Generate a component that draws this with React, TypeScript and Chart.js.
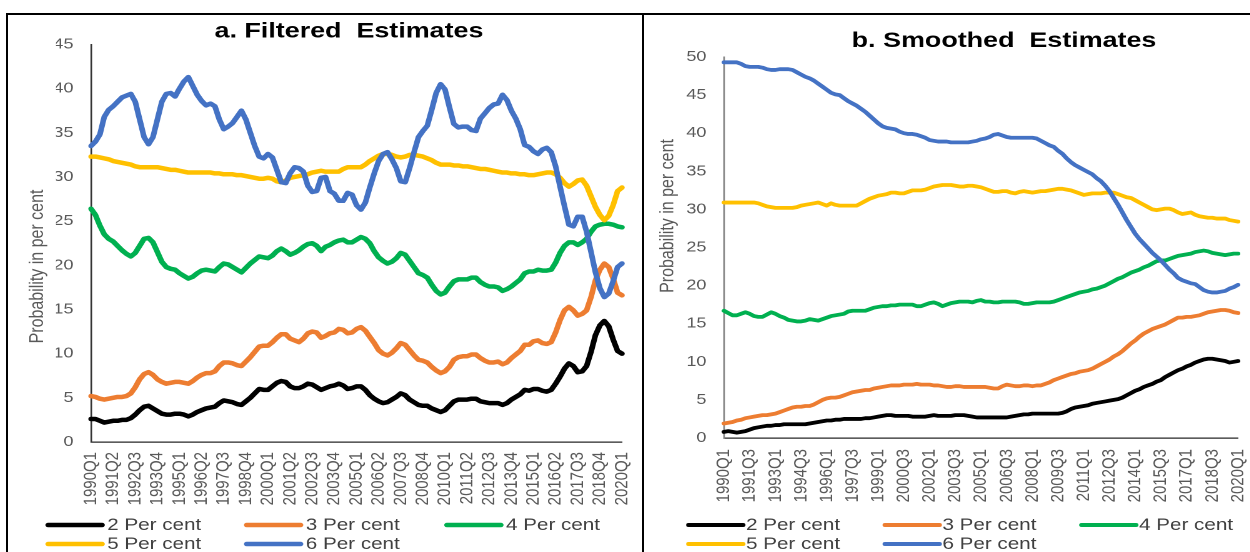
import React, { useEffect, useRef } from 'react';
import { Chart, registerables } from 'chart.js';

Chart.register(...registerables);

const FONT = "'Liberation Sans', Arial, Helvetica, sans-serif";
const STRETCH = 1.25;

const seriesLabels = ['2 Per cent', '3 Per cent', '4 Per cent', '5 Per cent', '6 Per cent'];
const seriesColors = ['#000000', '#ED7D31', '#00B050', '#FFC000', '#4472C4'];
const axisTitleText = 'Probability in per cent';

const quarters: string[] = [];
for (let year = 1990; year <= 2020; year++) {
  for (let q = 1; q <= 4; q++) {
    if (year === 2020 && q > 1) break;
    quarters.push(`${year}Q${q}`);
  }
}

const filteredTickLabels = [
  '1990Q1', '1991Q2', '1992Q3', '1993Q4', '1995Q1', '1996Q2', '1997Q3', '1998Q4', '2000Q1',
  '2001Q2', '2002Q3', '2003Q4', '2005Q1', '2006Q2', '2007Q3', '2008Q4', '2010Q1', '2011Q2',
  '2012Q3', '2013Q4', '2015Q1', '2016Q2', '2017Q3', '2018Q4', '2020Q1',
];
const smoothedTickLabels = [
  '1990Q1', '1991Q3', '1993Q1', '1994Q3', '1996Q1', '1997Q3', '1999Q1', '2000Q3', '2002Q1',
  '2003Q3', '2005Q1', '2006Q3', '2008Q1', '2009Q3', '2011Q1', '2012Q3', '2014Q1', '2015Q3',
  '2017Q1', '2018Q3', '2020Q1',
];

// ---- a. Filtered estimates ----
const filtered2 = [
  2.6, 2.6, 2.4, 2.2, 2.3, 2.4, 2.4, 2.5, 2.5, 2.7,
  3.1, 3.6, 4.0, 4.1, 3.8, 3.5, 3.2, 3.1, 3.1, 3.2,
  3.2, 3.1, 2.9, 3.1, 3.4, 3.6, 3.8, 3.9, 4.0, 4.4,
  4.7, 4.6, 4.5, 4.3, 4.2, 4.6, 5.0, 5.5, 6.0, 5.9,
  5.9, 6.3, 6.7, 6.9, 6.8, 6.3, 6.1, 6.1, 6.3, 6.6,
  6.5, 6.2, 5.9, 6.1, 6.3, 6.4, 6.6, 6.4, 6.0, 6.1,
  6.3, 6.3, 5.9, 5.3, 4.9, 4.6, 4.4, 4.5, 4.8, 5.1,
  5.5, 5.3, 4.8, 4.5, 4.2, 4.1, 4.1, 3.8, 3.6, 3.4,
  3.6, 4.1, 4.6, 4.8, 4.8, 4.8, 4.9, 4.9, 4.6, 4.5,
  4.4, 4.4, 4.4, 4.2, 4.4, 4.8, 5.1, 5.4, 5.9, 5.8,
  6.0, 6.0, 5.8, 5.7, 5.9, 6.6, 7.4, 8.3, 8.9, 8.6,
  7.9, 8.0, 8.6, 10.2, 12.1, 13.2, 13.7, 13.1, 11.6, 10.3,
  10.0,
];
const filtered3 = [
  5.2, 5.1, 4.9, 4.8, 4.9, 5.0, 5.1, 5.1, 5.2, 5.5,
  6.2, 7.1, 7.7, 7.9, 7.6, 7.1, 6.8, 6.6, 6.7, 6.8,
  6.8, 6.7, 6.6, 6.9, 7.3, 7.6, 7.8, 7.8, 8.0, 8.6,
  9.0, 9.0, 8.9, 8.7, 8.6, 9.1, 9.6, 10.2, 10.8, 10.9,
  10.9, 11.3, 11.8, 12.2, 12.2, 11.7, 11.5, 11.3, 11.7, 12.3,
  12.5, 12.4, 11.8, 12.0, 12.3, 12.4, 12.8, 12.7, 12.3, 12.4,
  12.8, 13.0, 12.6, 11.9, 11.2, 10.4, 10.0, 9.8, 10.1, 10.6,
  11.2, 11.0, 10.4, 9.8, 9.3, 9.2, 9.0, 8.5, 8.1, 7.8,
  8.0, 8.5, 9.3, 9.6, 9.7, 9.7, 9.9, 9.9, 9.5, 9.2,
  9.0, 9.0, 9.1, 8.8, 9.0, 9.5, 9.9, 10.3, 11.0, 11.0,
  11.4, 11.5, 11.2, 11.1, 11.3, 12.4, 13.8, 14.9, 15.3, 14.9,
  14.3, 14.5, 14.9, 16.4, 18.3, 19.5, 20.2, 19.8, 18.5, 16.9,
  16.6,
];
const filtered4 = [
  26.4, 25.7, 24.5, 23.5, 23.0, 22.7, 22.2, 21.7, 21.3, 21.0,
  21.4, 22.2, 23.0, 23.1, 22.6, 21.5, 20.4, 19.8, 19.6, 19.5,
  19.1, 18.8, 18.5, 18.7, 19.1, 19.4, 19.5, 19.4, 19.3, 19.8,
  20.2, 20.1, 19.8, 19.5, 19.2, 19.7, 20.2, 20.6, 21.0, 20.9,
  20.8, 21.1, 21.6, 21.9, 21.6, 21.2, 21.4, 21.7, 22.1, 22.4,
  22.5, 22.2, 21.6, 22.1, 22.3, 22.6, 22.8, 22.9, 22.6, 22.6,
  22.9, 23.2, 23.0, 22.5, 21.6, 20.9, 20.5, 20.2, 20.4, 20.8,
  21.4, 21.2, 20.5, 19.8, 19.1, 18.9, 18.6, 17.8, 17.1, 16.7,
  16.9, 17.6, 18.2, 18.4, 18.4, 18.4, 18.6, 18.6, 18.1, 17.8,
  17.6, 17.6, 17.5, 17.1, 17.3, 17.6, 18.0, 18.4, 19.1, 19.3,
  19.3, 19.5, 19.4, 19.4, 19.5, 20.3, 21.4, 22.2, 22.6, 22.6,
  22.3, 22.6, 23.0, 23.8, 24.4, 24.6, 24.7, 24.7, 24.6, 24.4,
  24.3,
];
const filtered5 = [
  32.3, 32.3, 32.2, 32.1, 32.0, 31.8, 31.7, 31.6, 31.5, 31.4,
  31.2, 31.1, 31.1, 31.1, 31.1, 31.1, 31.0, 30.9, 30.8, 30.8,
  30.7, 30.6, 30.5, 30.5, 30.5, 30.5, 30.5, 30.5, 30.4, 30.4,
  30.3, 30.3, 30.3, 30.2, 30.2, 30.1, 30.0, 29.9, 29.8, 29.8,
  29.9, 29.8, 29.5, 29.4, 29.6, 29.9, 30.0, 30.1, 30.2, 30.3,
  30.5, 30.6, 30.7, 30.6, 30.6, 30.6, 30.6, 30.9, 31.1, 31.1,
  31.1, 31.1, 31.4, 31.8, 32.1, 32.4, 32.6, 32.6, 32.5, 32.3,
  32.2, 32.3, 32.5, 32.5, 32.4, 32.3, 32.1, 31.9, 31.6, 31.4,
  31.4, 31.4, 31.3, 31.3, 31.2, 31.2, 31.1, 31.0, 30.9, 30.9,
  30.8, 30.7, 30.6, 30.5, 30.5, 30.4, 30.4, 30.3, 30.3, 30.2,
  30.2, 30.3, 30.4, 30.5, 30.5, 30.3, 29.9, 29.3, 28.9, 29.2,
  29.6, 29.7, 29.0, 27.8, 26.6, 25.7, 25.1, 25.6, 26.8, 28.4,
  28.8,
];
const filtered6 = [
  33.5, 34.0, 34.8, 36.8, 37.6, 38.0, 38.5, 39.0, 39.2, 39.4,
  38.5, 36.5, 34.5, 33.7, 34.5, 36.5, 38.5, 39.4, 39.5, 39.1,
  40.0, 40.8, 41.3, 40.3, 39.3, 38.6, 38.1, 38.3, 38.0, 36.5,
  35.4, 35.7, 36.1, 36.8, 37.5, 36.5, 35.0, 33.5, 32.3, 32.1,
  32.6, 32.2, 30.8, 29.4, 29.3, 30.4, 31.1, 31.0, 30.6, 29.0,
  28.3, 28.4, 29.9, 30.0, 28.4, 28.1, 27.3, 27.3, 28.2, 28.0,
  26.8, 26.3, 27.1, 28.8, 30.4, 31.8, 32.6, 32.8, 32.0, 31.0,
  29.5, 29.4, 31.0, 32.8, 34.5, 35.2, 35.8, 37.6, 39.5, 40.5,
  39.9, 37.9, 36.0, 35.6, 35.7, 35.7, 35.3, 35.2, 36.6, 37.2,
  37.8, 38.2, 38.3, 39.3, 38.7, 37.5, 36.6, 35.4, 33.6, 33.4,
  32.9, 32.6, 33.1, 33.3, 32.8, 31.2, 28.9, 26.7, 24.6, 24.4,
  25.5, 25.5, 23.8, 21.5, 19.2, 17.4, 16.4, 16.8, 18.2, 19.8,
  20.2,
];

// ---- b. Smoothed estimates ----
const smoothed2 = [
  0.8, 0.9, 0.8, 0.7, 0.8, 0.9, 1.1, 1.3, 1.4, 1.5,
  1.6, 1.6, 1.7, 1.7, 1.8, 1.8, 1.8, 1.8, 1.8, 1.8,
  1.9, 2.0, 2.1, 2.2, 2.3, 2.3, 2.4, 2.4, 2.5, 2.5,
  2.5, 2.5, 2.5, 2.6, 2.6, 2.7, 2.8, 2.9, 3.0, 3.0,
  2.9, 2.9, 2.9, 2.9, 2.8, 2.8, 2.8, 2.8, 2.9, 3.0,
  2.9, 2.9, 2.9, 2.9, 3.0, 3.0, 3.0, 2.9, 2.8, 2.7,
  2.7, 2.7, 2.7, 2.7, 2.7, 2.7, 2.7, 2.8, 2.9, 3.0,
  3.1, 3.1, 3.2, 3.2, 3.2, 3.2, 3.2, 3.2, 3.2, 3.3,
  3.5, 3.8, 4.0, 4.1, 4.2, 4.3, 4.5, 4.6, 4.7, 4.8,
  4.9, 5.0, 5.1, 5.3, 5.6, 5.9, 6.2, 6.4, 6.7, 6.9,
  7.1, 7.4, 7.6, 8.0, 8.3, 8.6, 8.9, 9.1, 9.4, 9.6,
  9.9, 10.1, 10.3, 10.4, 10.4, 10.3, 10.2, 10.1, 9.9, 10.0,
  10.1,
];
const smoothed3 = [
  1.9, 2.0, 2.1, 2.3, 2.4, 2.6, 2.7, 2.8, 2.9, 3.0,
  3.0, 3.1, 3.2, 3.4, 3.6, 3.8, 4.0, 4.1, 4.1, 4.2,
  4.2, 4.4, 4.7, 5.0, 5.2, 5.3, 5.3, 5.4, 5.6, 5.8,
  6.0, 6.1, 6.2, 6.3, 6.3, 6.5, 6.6, 6.7, 6.8, 6.9,
  6.9, 6.9, 7.0, 7.0, 7.0, 7.1, 7.0, 7.0, 7.0, 6.9,
  6.9, 6.8, 6.7, 6.7, 6.8, 6.8, 6.7, 6.7, 6.7, 6.7,
  6.7, 6.7, 6.6, 6.5, 6.5, 6.8, 7.0, 6.9, 6.8, 6.8,
  6.9, 6.9, 6.8, 6.9, 6.9, 7.1, 7.3, 7.6, 7.8, 8.0,
  8.2, 8.4, 8.5, 8.7, 8.8, 8.9, 9.1, 9.4, 9.7, 10.0,
  10.3, 10.7, 11.0, 11.4, 11.9, 12.4, 12.8, 13.3, 13.7, 14.0,
  14.3, 14.5, 14.7, 14.9, 15.2, 15.5, 15.8, 15.8, 15.9, 15.9,
  16.0, 16.1, 16.3, 16.5, 16.6, 16.7, 16.8, 16.8, 16.7, 16.5,
  16.4,
];
const smoothed4 = [
  16.7, 16.4, 16.1, 16.1, 16.3, 16.5, 16.3, 16.0, 15.9, 15.9,
  16.2, 16.5, 16.3, 16.0, 15.8, 15.5, 15.4, 15.3, 15.3, 15.4,
  15.6, 15.5, 15.4, 15.6, 15.8, 16.0, 16.1, 16.2, 16.3, 16.6,
  16.7, 16.7, 16.7, 16.7, 16.9, 17.1, 17.2, 17.3, 17.3, 17.4,
  17.4, 17.5, 17.5, 17.5, 17.5, 17.3, 17.3, 17.5, 17.7, 17.8,
  17.6, 17.3, 17.5, 17.7, 17.8, 17.9, 17.9, 17.9, 17.8, 18.0,
  18.1, 17.9, 17.9, 17.8, 17.8, 17.9, 17.9, 17.9, 17.9, 17.8,
  17.6, 17.6, 17.7, 17.8, 17.8, 17.8, 17.8, 17.9, 18.1, 18.3,
  18.5, 18.7, 18.9, 19.1, 19.2, 19.3, 19.5, 19.6, 19.8, 20.0,
  20.3, 20.6, 20.9, 21.1, 21.4, 21.7, 21.9, 22.1, 22.4, 22.6,
  22.9, 23.2, 23.3, 23.3, 23.5, 23.7, 23.9, 24.0, 24.1, 24.2,
  24.4, 24.5, 24.6, 24.5, 24.3, 24.2, 24.1, 24.0, 24.1, 24.2,
  24.2,
];
const smoothed5 = [
  30.9, 30.9, 30.9, 30.9, 30.9, 30.9, 30.9, 30.9, 30.8, 30.6,
  30.4, 30.3, 30.2, 30.2, 30.2, 30.2, 30.2, 30.3, 30.5, 30.6,
  30.7, 30.8, 30.9, 30.7, 30.5, 30.8, 30.6, 30.5, 30.5, 30.5,
  30.5, 30.5, 30.8, 31.1, 31.4, 31.6, 31.8, 31.9, 32.0, 32.2,
  32.2, 32.1, 32.1, 32.3, 32.5, 32.5, 32.5, 32.6, 32.8, 33.0,
  33.1, 33.2, 33.2, 33.2, 33.1, 33.0, 33.0, 33.1, 33.1, 33.0,
  32.9, 32.7, 32.5, 32.3, 32.3, 32.4, 32.4, 32.2, 32.1, 32.3,
  32.4, 32.3, 32.2, 32.3, 32.4, 32.4, 32.5, 32.6, 32.7, 32.7,
  32.6, 32.5, 32.3, 32.1, 31.9, 32.0, 32.1, 32.1, 32.1, 32.2,
  32.2, 32.2, 32.0, 31.8, 31.6, 31.5, 31.2, 30.9, 30.6, 30.3,
  30.0, 29.9, 30.0, 30.1, 30.1, 29.9, 29.6, 29.4, 29.5, 29.6,
  29.3, 29.1, 29.0, 28.9, 28.9, 28.8, 28.8, 28.8, 28.6, 28.5,
  28.4,
];
const smoothed6 = [
  49.3, 49.3, 49.3, 49.3, 49.1, 48.8, 48.7, 48.7, 48.7, 48.6,
  48.4, 48.3, 48.3, 48.4, 48.4, 48.4, 48.3, 48.0, 47.7, 47.4,
  47.2, 46.9, 46.5, 46.1, 45.7, 45.3, 45.1, 45.0, 44.6, 44.2,
  43.9, 43.6, 43.2, 42.8, 42.3, 41.8, 41.3, 40.9, 40.7, 40.6,
  40.5, 40.2, 40.0, 39.9, 39.9, 39.8, 39.6, 39.4, 39.1, 39.0,
  38.9, 38.9, 38.9, 38.8, 38.8, 38.8, 38.8, 38.8, 38.9, 39.0,
  39.2, 39.3, 39.5, 39.8, 39.9, 39.7, 39.5, 39.4, 39.4, 39.4,
  39.4, 39.4, 39.4, 39.3, 39.0, 38.7, 38.4, 38.2, 37.7, 37.3,
  36.7, 36.2, 35.8, 35.5, 35.2, 34.9, 34.6, 34.1, 33.7, 33.1,
  32.4, 31.5, 30.6, 29.6, 28.6, 27.7, 26.8, 26.1, 25.5, 24.9,
  24.3, 23.8, 23.3, 22.7, 22.1, 21.6, 21.0, 20.7, 20.5, 20.3,
  20.2, 19.8, 19.4, 19.2, 19.1, 19.1, 19.2, 19.3, 19.6, 19.8,
  20.1,
];

type PanelSpec = {
  title: string;
  titlePad: { top: number; bottom: number };
  series: number[][];
  yMax: number;
  tickLabels: string[];
  lineWidth: number;
  canvasWidth: number;
  layoutPadLeft: number;
  yAxisWidth: number;
  rightAxisWidth: number;
  xAxisHeight: number;
  xTickPad: number;
  yAxisColor: string;
  xAxisColor: string;
  axisTitlePos: { x: number; y: number };
  legendCols: number[];
  legendRows: number[];
  legendBoxLen: number;
  legendTextOffset: number;
  legendLineWidth: number;
};

const filteredSpec: PanelSpec = {
  title: 'a. Filtered  Estimates',
  titlePad: { top: 3.6, bottom: 0 },
  series: [filtered2, filtered3, filtered4, filtered5, filtered6],
  yMax: 45,
  tickLabels: filteredTickLabels,
  lineWidth: 4.5,
  canvasWidth: 507.2,
  layoutPadLeft: 38.4,
  yAxisWidth: 28,
  rightAxisWidth: 16,
  xAxisHeight: 110,
  xTickPad: 10,
  yAxisColor: '#303030',
  xAxisColor: '#262626',
  axisTitlePos: { x: 23.6, y: 251.5 },
  legendCols: [32.2, 191, 351.2],
  legendRows: [510, 529],
  legendBoxLen: 43,
  legendTextOffset: 47.2,
  legendLineWidth: 4.5,
};

const smoothedSpec: PanelSpec = {
  title: 'b. Smoothed  Estimates',
  titlePad: { top: 13.1, bottom: 3.1 },
  series: [smoothed2, smoothed3, smoothed4, smoothed5, smoothed6],
  yMax: 50,
  tickLabels: smoothedTickLabels,
  lineWidth: 3.8,
  canvasWidth: 576,
  layoutPadLeft: 0,
  yAxisWidth: 64,
  rightAxisWidth: 100.8,
  xAxisHeight: 114,
  xTickPad: 11,
  yAxisColor: '#808080',
  xAxisColor: '#262626',
  axisTitlePos: { x: 19.2, y: 201 },
  legendCols: [35.7, 192.8, 350.1],
  legendRows: [510, 529],
  legendBoxLen: 43.5,
  legendTextOffset: 45.9,
  legendLineWidth: 4,
};

function makeOverlayPlugin(p: PanelSpec) {
  return {
    id: 'excelOverlay',
    afterDraw(chart: any) {
      const ctx: CanvasRenderingContext2D = chart.ctx;
      // y-axis title
      ctx.save();
      ctx.translate(p.axisTitlePos.x, p.axisTitlePos.y);
      ctx.rotate(-Math.PI / 2);
      ctx.font = `16px ${FONT}`;
      ctx.fillStyle = '#595959';
      ctx.textAlign = 'center';
      ctx.textBaseline = 'middle';
      ctx.fillText(axisTitleText, 0, 0);
      ctx.restore();
      // legend
      ctx.save();
      ctx.font = `16.5px ${FONT}`;
      ctx.textAlign = 'left';
      ctx.textBaseline = 'middle';
      chart.data.datasets.forEach((ds: any, i: number) => {
        const x = p.legendCols[i % 3];
        const y = p.legendRows[Math.floor(i / 3)];
        ctx.strokeStyle = ds.borderColor;
        ctx.lineWidth = p.legendLineWidth;
        ctx.lineCap = 'round';
        ctx.beginPath();
        ctx.moveTo(x, y);
        ctx.lineTo(x + p.legendBoxLen, y);
        ctx.stroke();
        ctx.fillStyle = '#3f3f3f';
        ctx.fillText(String(ds.label), x + p.legendTextOffset, y + 0.5);
      });
      ctx.restore();
    },
  };
}

function buildConfig(p: PanelSpec): any {
  return {
    type: 'line',
    data: {
      labels: quarters,
      datasets: p.series.map((values, i) => ({
        label: seriesLabels[i],
        data: values,
        borderColor: seriesColors[i],
        backgroundColor: seriesColors[i],
        borderWidth: p.lineWidth,
        pointRadius: 0,
        tension: 0,
        borderJoinStyle: 'round',
        borderCapStyle: 'round',
        order: seriesLabels.length - 1 - i,
      })),
    },
    options: {
      responsive: true,
      maintainAspectRatio: false,
      animation: false,
      devicePixelRatio: 2,
      events: [],
      layout: { padding: { left: p.layoutPadLeft, right: 0, top: 0, bottom: 0 } },
      plugins: {
        legend: { display: false },
        tooltip: { enabled: false },
        title: {
          display: true,
          text: p.title,
          color: '#000000',
          font: { family: FONT, size: 21.5, weight: 'bold' },
          padding: p.titlePad,
        },
      },
      scales: {
        x: {
          type: 'category',
          offset: false,
          grid: { display: false, drawTicks: false },
          border: { display: true, color: p.xAxisColor, width: 1.3 },
          ticks: {
            autoSkip: false,
            maxRotation: 90,
            minRotation: 90,
            padding: p.xTickPad,
            color: '#595959',
            font: { family: FONT, size: 15 },
            callback: (_v: any, index: number) =>
              p.tickLabels.includes(quarters[index]) ? quarters[index] : '',
          },
          afterFit: (scale: any) => {
            scale.height = p.xAxisHeight;
            scale.paddingLeft = 0;
            scale.paddingRight = 0;
          },
        },
        y: {
          min: 0,
          max: p.yMax,
          grid: { display: false, drawTicks: false },
          border: { display: true, color: p.yAxisColor, width: 1.3 },
          ticks: {
            stepSize: 5,
            padding: 14,
            color: '#595959',
            font: { family: FONT, size: 14.5 },
          },
          afterFit: (scale: any) => {
            scale.width = p.yAxisWidth;
            scale.paddingTop = 0;
            scale.paddingBottom = 0;
          },
        },
        yGutter: {
          position: 'right',
          display: true,
          grid: { display: false, drawTicks: false },
          border: { display: false },
          ticks: { display: false },
          afterFit: (scale: any) => {
            scale.width = p.rightAxisWidth;
            scale.paddingTop = 0;
            scale.paddingBottom = 0;
          },
        },
      },
    },
    plugins: [makeOverlayPlugin(p)],
  };
}

function Panel({ spec, left }: { spec: PanelSpec; left: number }) {
  const ref = useRef<HTMLCanvasElement>(null);
  useEffect(() => {
    if (!ref.current) return;
    const chart = new Chart(ref.current, buildConfig(spec));
    return () => chart.destroy();
  }, [spec]);
  return (
    <div
      style={{
        position: 'absolute',
        left,
        top: 15,
        width: spec.canvasWidth,
        height: 537,
        transform: `scaleX(${STRETCH})`,
        transformOrigin: '0 0',
      }}
    >
      <canvas ref={ref} />
    </div>
  );
}

export default function App() {
  return (
    <div
      style={{
        position: 'fixed',
        left: 0,
        top: 0,
        width: 1250,
        height: 552,
        overflow: 'hidden',
        background: '#ffffff',
      }}
    >
      <div
        style={{
          position: 'absolute',
          left: 6,
          top: 13,
          width: 1400,
          height: 700,
          border: '2px solid #000',
          boxSizing: 'border-box',
        }}
      />
      <div style={{ position: 'absolute', left: 642, top: 13, width: 2, height: 600, background: '#000' }} />
      <Panel spec={filteredSpec} left={8} />
      <Panel spec={smoothedSpec} left={644} />
    </div>
  );
}
